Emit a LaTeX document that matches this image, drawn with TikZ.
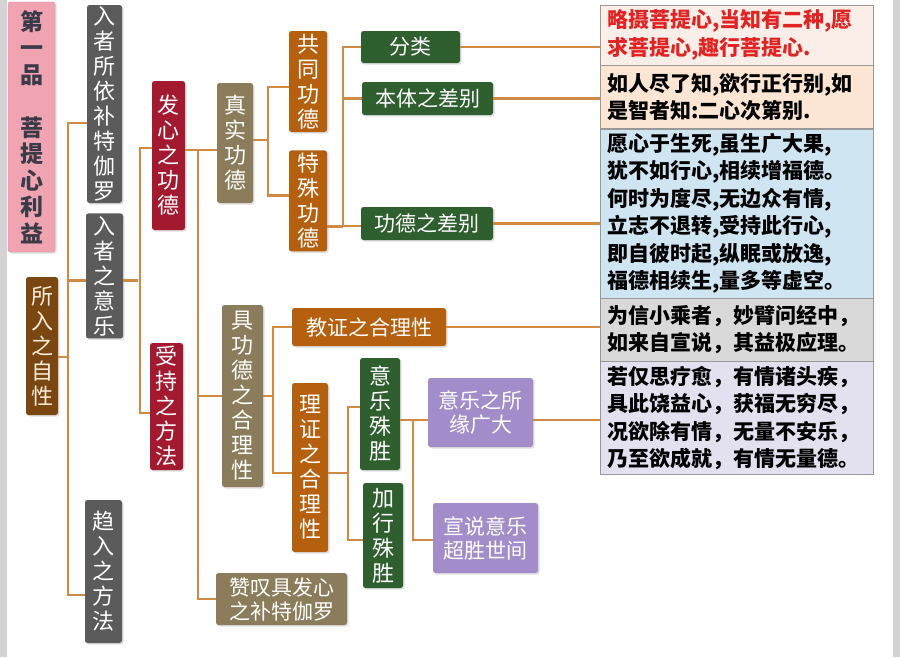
\documentclass[tikz,border=0pt]{standalone}
\usepackage{fontspec}
\setmainfont{Noto Sans CJK SC}
\usepackage{xcolor}
\usepackage{tikz}
\usetikzlibrary{positioning,shadows}

\definecolor{linkorange}{HTML}{D08A44}
\definecolor{titlepink}{HTML}{F0A3B1}
\definecolor{titleedge}{HTML}{D9849A}
\definecolor{titleink}{HTML}{3A3A48}
\definecolor{darkgrey}{HTML}{5B5B5B}
\definecolor{deepred}{HTML}{A3192F}
\definecolor{olive}{HTML}{8B7D5B}
\definecolor{rust}{HTML}{B5600E}
\definecolor{leaf}{HTML}{2F5E2F}
\definecolor{lilac}{HTML}{A28CC9}
\definecolor{umber}{HTML}{7A4713}
\definecolor{edgegrey}{HTML}{D3D3D3}
\definecolor{versered}{HTML}{E02424}
\definecolor{versepink}{HTML}{FBEDE8}
\definecolor{versepeach}{HTML}{FCE5D2}
\definecolor{verseblue}{HTML}{CFE5F2}
\definecolor{versegrey}{HTML}{D9D9D9}
\definecolor{verselilac}{HTML}{E3E0EF}

\begin{document}
\begin{tikzpicture}[x=1pt, y=-1pt,
  tree/.style={rounded corners=2.5pt, inner sep=0pt, align=center, text=white,
    drop shadow={shadow xshift=1.5pt, shadow yshift=-1.5pt, opacity=0.25}},
  vtxt/.style={font=\fontsize{22}{25}\selectfont},
  htxt/.style={font=\fontsize{21}{24}\selectfont},
  greybox/.style={tree, fill=darkgrey},
  redbox/.style={tree, fill=deepred},
  olivebox/.style={tree, fill=olive},
  rustbox/.style={tree, fill=rust},
  leafbox/.style={tree, fill=leaf},
  lilacbox/.style={tree, fill=lilac},
  verse/.style={draw=gray!80, inner sep=0pt, minimum width=273pt, text width=259pt,
    align=left, font=\bfseries\fontsize{21}{27.5}\selectfont},
  link/.style={draw=linkorange, line width=2.6pt}
]
  \useasboundingbox (0,0) rectangle (900,657);
  \fill[edgegrey] (0,0) rectangle (7,657);
  \fill[edgegrey] (893,0) rectangle (900,657);

  % left column
  \node[tree, fill=titlepink, draw=titleedge, text=titleink, minimum width=47pt,
    minimum height=250pt, font=\bfseries\fontsize{23}{26.5}\selectfont] (title) at (31.5,127)
    {第\\一\\品\\[26.5pt]菩\\提\\心\\利\\益};
  \node[tree, fill=umber, text=orange!15, vtxt, minimum width=32pt, minimum height=138pt]
    (zx) at (42,346) {所\\入\\之\\自\\性};

  \node[greybox, vtxt, minimum width=35pt, minimum height=198pt] (rzy) at (104.5,104)
    {入\\者\\所\\依\\补\\特\\伽\\罗};
  \node[greybox, vtxt, minimum width=37pt, minimum height=125pt, below=10pt of rzy]
    (rzyl) {入\\者\\之\\意\\乐};
  \node[greybox, vtxt, minimum width=37pt, minimum height=143pt] (qr) at (103.5,571.5)
    {趋\\入\\之\\方\\法};

  \node[redbox, vtxt, minimum width=33pt, minimum height=149pt] (fx) at (168.5,155.5)
    {发\\心\\之\\功\\德};
  \node[redbox, vtxt, minimum width=33pt, minimum height=127pt] (sc) at (166.5,406.5)
    {受\\持\\之\\方\\法};

  \node[olivebox, vtxt, minimum width=36pt, minimum height=120pt] (zs) at (235,143)
    {真\\实\\功\\德};
  \node[olivebox, vtxt, minimum width=41pt, minimum height=182pt] (jg) at (242.5,396)
    {具\\功\\德\\之\\合\\理\\性};
  \node[olivebox, htxt, minimum width=131pt, minimum height=52pt] (zt) at (281.5,599)
    {赞叹具发心\\之补特伽罗};

  \node[rustbox, vtxt, minimum width=38pt, minimum height=101pt] (gt) at (308,81.5)
    {共\\同\\功\\德};
  \node[rustbox, vtxt, minimum width=38pt, minimum height=101pt, below=18pt of gt]
    (ts) {特\\殊\\功\\德};

  \node[leafbox, htxt, minimum width=99pt, minimum height=32pt] (fl) at (410.5,47) {分类};
  \node[leafbox, htxt, minimum width=131pt, minimum height=33pt] (bt) at (427.5,98.5)
    {本体之差别};
  \node[leafbox, htxt, minimum width=132pt, minimum height=33pt] (gd) at (427,223.5)
    {功德之差别};

  \node[rustbox, htxt, minimum width=154pt, minimum height=38pt] (jz) at (369,327)
    {教证之合理性};
  \node[rustbox, vtxt, minimum width=36pt, minimum height=169pt] (lz) at (310,467.5)
    {理\\证\\之\\合\\理\\性};

  \node[leafbox, vtxt, minimum width=40pt, minimum height=112pt] (yl) at (380,414)
    {意\\乐\\殊\\胜};
  \node[leafbox, vtxt, minimum width=40pt, minimum height=105pt] (jx) at (383,535.5)
    {加\\行\\殊\\胜};

  \node[lilacbox, htxt, minimum width=105pt, minimum height=69pt] (ys) at (480.5,412.5)
    {意乐之所\\缘广大};
  \node[lilacbox, htxt, minimum width=105pt, minimum height=70pt] (xs) at (485.5,538)
    {宣说意乐\\超胜世间};

  % verses on the right
  \node[verse, fill=versepink, text=versered, minimum height=60pt] (t1) at (736.5,35)
    {略摄菩提心,当知有二种,愿\\求菩提心,趣行菩提心.};
  \node[verse, fill=versepeach, minimum height=63pt, below=0pt of t1] (t2)
    {如人尽了知,欲行正行别,如\\是智者知:二心次第别.};
  \node[verse, fill=verseblue, minimum height=169pt, below=0pt of t2] (t3)
    {愿心于生死,虽生广大果,\\犹不如行心,相续增福德。\\何时为度尽,无边众有情,\\
     立志不退转,受持此行心,\\即自彼时起,纵眠或放逸,\\福德相续生,量多等虚空。};
  \node[verse, fill=versegrey, minimum height=63pt, below=0pt of t3] (t4)
    {为信小乘者，妙臂问经中，\\如来自宣说，其益极应理。};
  \node[verse, fill=verselilac, minimum height=113pt, below=0pt of t4] (t5)
    {若仅思疗愈，有情诸头疾，\\具此饶益心，获福无穷尽，\\况欲除有情，无量不安乐，\\
     乃至欲成就，有情无量德。};

  % connectors
  \draw[link] ([yshift=-19pt]rzy.west) -- ++(-19,0) |- ([yshift=-23.5pt]qr.west);
  \draw[link] ([yshift=-4.5pt]rzyl.west) -- ++(-19,0);
  \draw[link] ([yshift=-11pt]zx.east) -- ++(10,0);

  \draw[link] ([yshift=7.5pt]fx.west) -- ++(-12,0) |- ([yshift=-6.5pt]sc.west);
  \draw[link] ([yshift=-4.5pt]rzyl.east) -- ++(15,0);

  \draw[link] ([yshift=5.5pt]fx.east) -- ([yshift=-7pt]zs.west);
  \draw[link] ([yshift=-7pt]zs.west) -- ++(-19,0) |- (zt.west);
  \draw[link] (jg.west) -- ++(-24,0);

  \draw[link] ([yshift=-5.5pt]gt.west) -- ++(-21,0) |- ([yshift=5.5pt]ts.west);
  \draw[link] ([yshift=3pt]zs.east) -- ++(15,0);

  \draw[link] (fl.west) -- ++(-18,0) |- ([yshift=-2.5pt]gd.west);
  \draw[link] (bt.west) -- ++(-19,0);
  \draw[link] ([yshift=-25.5pt]ts.east) -- ++(16,0);

  \draw[link] (fl.east) -- (fl.east -| t1.west);
  \draw[link] (bt.east) -- (bt.east -| t2.west);
  \draw[link] (gd.east) -- (gd.east -| t3.west);
  \draw[link] (jz.east) -- (jz.east -| t4.west);
  \draw[link] ([yshift=-7.5pt]ys.east) -- ++(67,0);

  \draw[link] (jz.west) -- ++(-19,0) |- ([yshift=-5.5pt]lz.west);
  \draw[link] (jg.east) -- ++(10,0);

  \draw[link] ([yshift=7pt]yl.west) -- ++(-12,0) |- ([yshift=-4.5pt]jx.west);
  \draw[link] ([yshift=-5.5pt]lz.east) -- ++(20,0);

  \draw[link] ([yshift=-6pt]yl.east) -- ([yshift=-7.5pt]ys.west);
  \draw[link] ([yshift=-2pt]xs.west) -- ++(-20,0) |- ([yshift=-7.5pt]ys.west);
\end{tikzpicture}
\end{document}
